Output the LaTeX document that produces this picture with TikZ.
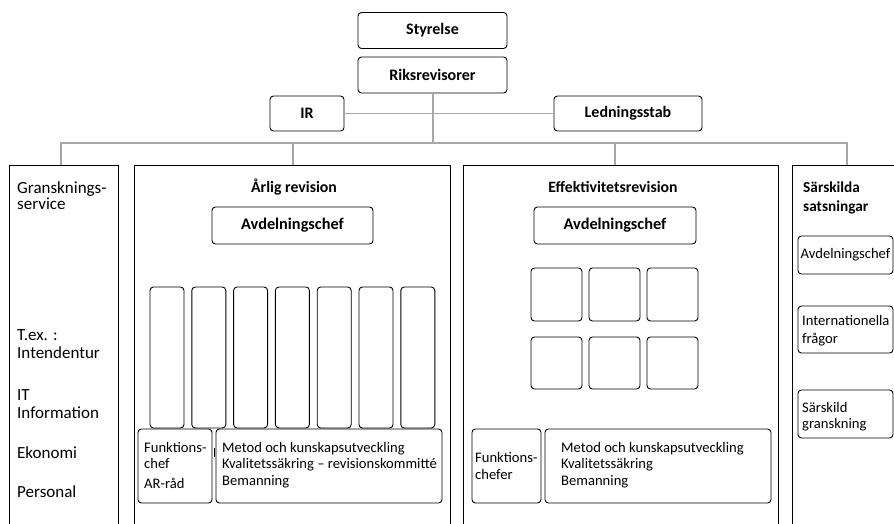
\documentclass[tikz,border=0pt]{standalone}
\usepackage{fontspec}
\setmainfont{Carlito}
\usetikzlibrary{calc}
\definecolor{linegray}{HTML}{A8A8A8}
\begin{document}
\begin{tikzpicture}[x=1pt,y=-1pt,
  box/.style={draw, line width=0.9pt, rounded corners=3.5pt, inner sep=0pt},
  topbox/.style={box, font=\fontsize{16}{18}\selectfont\bfseries},
  outer/.style={draw, line width=0.9pt, inner sep=0pt},
  conn/.style={draw=linegray, line width=1.7pt},
  txt/.style={inner sep=0pt, font=\fontsize{14.6}{17}\selectfont, anchor=base west},
  bigtxt/.style={txt, font=\fontsize{17}{19}\selectfont},
  btxt/.style={inner sep=0pt, font=\fontsize{15.8}{18}\selectfont\bfseries},
]
\useasboundingbox (0,0) rectangle (894,524);
\clip (0,0) rectangle (894,524);

% top level
\node[topbox, minimum width=149, minimum height=36] (sty) at (432.5,30.5) {Styrelse};
\node[topbox, minimum width=149, minimum height=36] (rik) at (432.5,75) {Riksrevisorer};
\node[topbox, minimum width=74, minimum height=35] (ir) at (307,113.5) {IR};
\node[topbox, minimum width=148, minimum height=35] (led) at (628,113.5) {Ledningsstab};

% main boxes
\node[outer, minimum width=109, minimum height=380] (gs) at (63.5,355) {};
\node[outer, minimum width=316, minimum height=380] (ar) at (292,355) {};
\node[outer, minimum width=315, minimum height=380] (ef) at (620.5,355) {};
\node[outer, minimum width=118, minimum height=380] (ss) at (851,355) {};

% connectors
\coordinate (bus) at (433,143);
\coordinate (d1) at (61,143);
\coordinate (d2) at (293,143);
\coordinate (d3) at (615,143);
\coordinate (d4) at (847,143);
\draw[conn] (rik.south -| bus) -- (bus);
\draw[conn] (ir.east) -- (led.west);
\draw[conn, line cap=rect] (d1) -- (d4);
\draw[conn] (d1) -- (d1 |- gs.north);
\draw[conn] (d2) -- (d2 |- ar.north);
\draw[conn] (d3) -- (d3 |- ef.north);
\draw[conn] (d4) -- (d4 |- ss.north);

% Granskningsservice column
\node[bigtxt] (g1) at (17,193) {Gransknings-};
\node[bigtxt] (g2) at (17,209) {service};
\node[bigtxt] (g3) at (17,340) {T.ex. :};
\node[bigtxt] (g4) at (17,358) {Intendentur};
\node[bigtxt] (g5) at (17,400) {IT};
\node[bigtxt] (g6) at (17,418) {Information};
\node[bigtxt] (g7) at (17,458) {Ekonomi};
\node[bigtxt] (g8) at (17,497) {Personal};

% Årlig revision
\node[btxt, anchor=base] (art) at (294,192) {Årlig revision};
\node[box, minimum width=161, minimum height=37, font=\fontsize{16.3}{18}\selectfont\bfseries] (arav) at (292.5,225.5) {Avdelningschef};
\foreach \i in {0,...,6}{
  \node[box, minimum width=34, minimum height=141] (col\i) at ({167+41.8*\i},357.5) {};
}
\node[box, minimum width=74, minimum height=74] (arf) at (175,466) {};
\node[box, minimum width=226, minimum height=74] (arm) at (329,466) {};
\coordinate (tick) at ($(arf.east)!0.5!(arm.west)$);
\draw[line width=0.8pt] ($(tick)+(0,-18)$) -- ($(tick)+(0,-9)$);
\node[txt] (af1) at (144,452) {Funktions-};
\node[txt] (af2) at (144,468) {chef};
\node[txt] (af3) at (144,488) {AR-råd};
\node[txt] (am1) at (222,452) {Metod och kunskapsutveckling};
\node[txt] (am2) at (222,468) {Kvalitetssäkring – revisionskommitté};
\node[txt] (am3) at (222,485) {Bemanning};

% Effektivitetsrevision
\node[btxt, anchor=base] (eft) at (613,192) {Effektivitetsrevision};
\node[box, minimum width=162, minimum height=37, font=\fontsize{16.3}{18}\selectfont\bfseries] (efav) at (615,225.5) {Avdelningschef};
\foreach \c/\x in {0/556.5,1/614.5,2/672.5}{
  \node[box, minimum width=51, minimum height=53] (sqa\c) at (\x,294.5) {};
  \node[box, minimum width=51, minimum height=52] (sqb\c) at (\x,363) {};
}
\node[box, minimum width=69, minimum height=74] (eff) at (506.5,466) {};
\node[box, minimum width=226, minimum height=74] (efm) at (658,466) {};
\node[txt] (ef1) at (475,462) {Funktions-};
\node[txt] (ef2) at (475,479) {chefer};
\node[txt] (em1) at (561,452) {Metod och kunskapsutveckling};
\node[txt] (em2) at (561,468) {Kvalitetssäkring};
\node[txt] (em3) at (561,485) {Bemanning};

% Särskilda satsningar
\node[btxt, anchor=base west, font=\fontsize{15.3}{18}\selectfont\bfseries] (st1) at (803,192) {Särskilda};
\node[btxt, anchor=base west, font=\fontsize{15.3}{18}\selectfont\bfseries] (st2) at (803,211) {satsningar};
\node[box, minimum width=95, minimum height=38] (sav) at (845.5,255) {};
\node[txt, anchor=center] (savt) at (sav.center) {Avdelningschef};
\node[box, minimum width=95, minimum height=47] (sint) at (845.5,329.5) {};
\node[txt] (si1) at (802,325) {Internationella};
\node[txt] (si2) at (802,343) {frågor};
\node[box, minimum width=95, minimum height=48] (sgr) at (845.5,414) {};
\node[txt] (sg1) at (802,412) {Särskild};
\node[txt] (sg2) at (802,428) {granskning};
\end{tikzpicture}
\end{document}
